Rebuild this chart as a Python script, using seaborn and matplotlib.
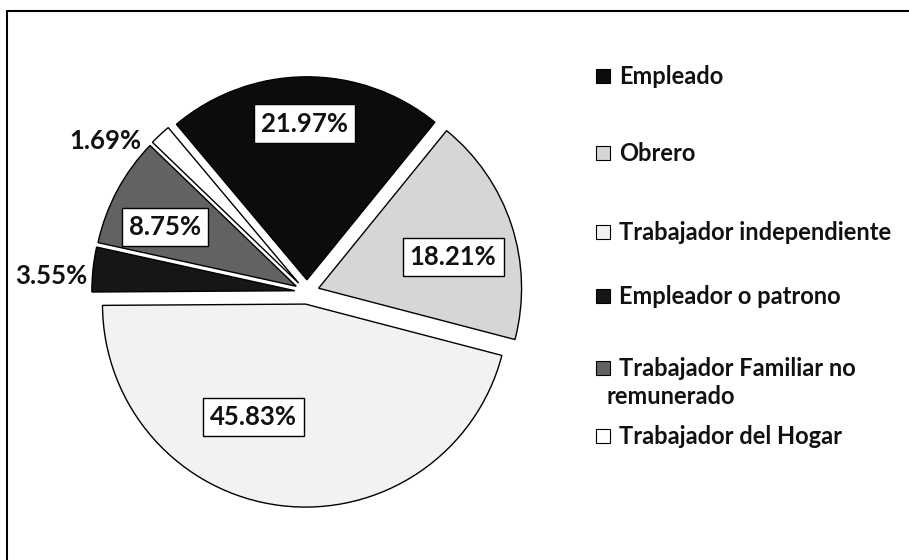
import matplotlib
matplotlib.use("Agg")
import numpy as np
import matplotlib.pyplot as plt
import seaborn as sns
from matplotlib.patches import Rectangle
from matplotlib.lines import Line2D

# Data
categories = ['Empleado', 'Obrero', 'Trabajador independiente',
              'Empleador o patrono', 'Trabajador Familiar no\nremunerado',
              'Trabajador del Hogar']
shares = [21.97, 18.21, 45.83, 3.55, 8.75, 1.69]
pct_labels = ['21.97%', '18.21%', '45.83%', '3.55%', '8.75%', '1.69%']

# Styling
colors = ['#0c0c0c', '#d6d6d6', '#f2f2f2', '#161616', '#626262', '#ffffff']
boxed = [True, True, True, False, True, False]
label_r = [0.83, 0.74, 0.67, 1.26, 0.77, 1.24]
label_dtheta = [0.5, -4.7, -16.0, 2.4, 3.5, 10.0]

W, H = 909, 560
CX, CY, R = 307, 292, 203          # pie centre / radius in pixels

sns.set_theme(style='white')
plt.rcParams['font.family'] = ['Lato', 'DejaVu Sans']

fig = plt.figure(figsize=(W / 100, H / 100), dpi=100)
fig.patch.set_facecolor('white')
ax = fig.add_axes([0, 0, 1, 1])

wedges, _ = ax.pie(shares, colors=colors, startangle=130, counterclock=False,
                   explode=[0.06] * len(shares), radius=1,
                   wedgeprops=dict(edgecolor='black', linewidth=1.0))

ax.set_xlim(-CX / R, (W - CX) / R)
ax.set_ylim(-(H - CY) / R, CY / R)
ax.set_aspect('equal', adjustable='box')
ax.axis('off')

# percentage labels
for w, lab, r, dt, b in zip(wedges, pct_labels, label_r, label_dtheta, boxed):
    mid = np.deg2rad((w.theta1 + w.theta2) / 2 + dt)
    x, y = r * np.cos(mid), r * np.sin(mid)
    kw = {}
    if b:
        kw['bbox'] = dict(boxstyle='square,pad=0.28', fc='white',
                          ec='black', lw=1.0)
    ax.text(x, y, lab, ha='center', va='center', fontsize=18.5,
            fontweight='bold', color='#111111', **kw)

# legend (Excel-like, drawn in pixel layout)
legend_y = [76, 153, 232, 296, 368, 436]
line_gap = 28
for name, col, yy in zip(categories, colors, legend_y):
    fig.add_artist(Rectangle((596 / W, 1 - (yy + 7) / H), 14 / W, 14 / H,
                             transform=fig.transFigure, fc=col,
                             ec='black', lw=0.8))
    for i, line in enumerate(name.split('\n')):
        x0 = 619 if i == 0 else 606
        fig.text(x0 / W, 1 - (yy + 8 + i * line_gap) / H, line,
                 ha='left', va='baseline', fontsize=17, fontweight='bold',
                 color='#111111')

# chart frame (only left and top edges visible)
fig.add_artist(Line2D([7 / W, 7 / W], [0, 1 - 11 / H], transform=fig.transFigure,
                      color='black', lw=1.5))
fig.add_artist(Line2D([7 / W, 1], [1 - 11 / H, 1 - 11 / H], transform=fig.transFigure,
                      color='black', lw=1.5))

fig.savefig('out.png', dpi=100, facecolor='white')
